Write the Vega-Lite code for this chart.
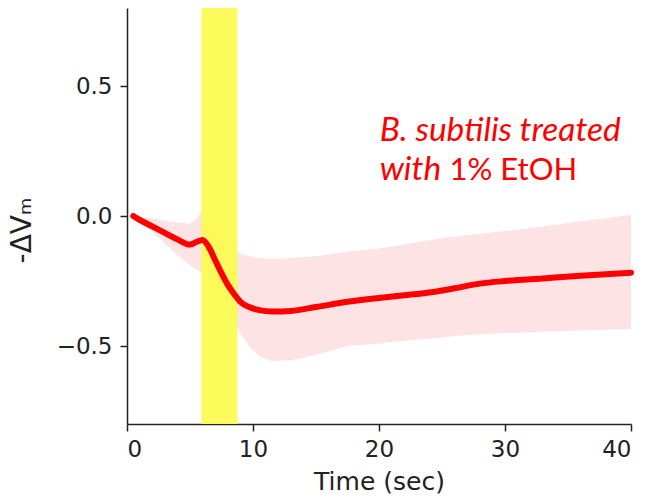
{
  "$schema": "https://vega.github.io/schema/vega-lite/v6.json",
  "width": 504,
  "height": 416,
  "autosize": "none",
  "padding": {"left": 127, "top": 8, "right": 18, "bottom": 80},
  "background": "white",
  "config": {
    "view": {"stroke": null},
    "axis": {
      "grid": false,
      "domainColor": "#222222",
      "domainWidth": 1.5,
      "tickColor": "#222222",
      "tickWidth": 1.5,
      "tickSize": 7,
      "labelFont": "DejaVu Sans",
      "labelFontSize": 23,
      "labelColor": "#222222",
      "titleFont": "DejaVu Sans",
      "titleFontSize": 25,
      "titleFontWeight": "normal",
      "titleColor": "#222222"
    }
  },
  "datasets": {
    "series": [
      {"t": 0.5, "mean": 0.0, "hi": 0.0, "lo": 0.0},
      {"t": 1, "mean": -0.015, "hi": -0.004, "lo": -0.025},
      {"t": 2, "mean": -0.04, "hi": -0.01, "lo": -0.06},
      {"t": 3, "mean": -0.065, "hi": -0.018, "lo": -0.105},
      {"t": 4, "mean": -0.09, "hi": -0.025, "lo": -0.15},
      {"t": 5, "mean": -0.11, "hi": -0.03, "lo": -0.19},
      {"t": 5.5, "mean": -0.1, "hi": -0.01, "lo": -0.205},
      {"t": 6.0, "mean": -0.092, "hi": 0.022, "lo": -0.22},
      {"t": 6.5, "mean": -0.12, "hi": 0.0, "lo": -0.25},
      {"t": 7, "mean": -0.17, "hi": -0.04, "lo": -0.29},
      {"t": 7.5, "mean": -0.22, "hi": -0.08, "lo": -0.33},
      {"t": 8, "mean": -0.265, "hi": -0.11, "lo": -0.37},
      {"t": 8.5, "mean": -0.3, "hi": -0.132, "lo": -0.41},
      {"t": 9, "mean": -0.33, "hi": -0.145, "lo": -0.45},
      {"t": 9.7, "mean": -0.35, "hi": -0.155, "lo": -0.5},
      {"t": 10.5, "mean": -0.362, "hi": -0.162, "lo": -0.54},
      {"t": 11.5, "mean": -0.367, "hi": -0.165, "lo": -0.558},
      {"t": 13, "mean": -0.365, "hi": -0.162, "lo": -0.555},
      {"t": 15, "mean": -0.35, "hi": -0.155, "lo": -0.535},
      {"t": 17.5, "mean": -0.33, "hi": -0.137, "lo": -0.5},
      {"t": 20, "mean": -0.315, "hi": -0.125, "lo": -0.49},
      {"t": 22, "mean": -0.305, "hi": -0.11, "lo": -0.48},
      {"t": 24.3, "mean": -0.292, "hi": -0.09, "lo": -0.47},
      {"t": 26, "mean": -0.278, "hi": -0.08, "lo": -0.462},
      {"t": 28, "mean": -0.26, "hi": -0.068, "lo": -0.455},
      {"t": 30, "mean": -0.25, "hi": -0.058, "lo": -0.45},
      {"t": 33, "mean": -0.24, "hi": -0.04, "lo": -0.445},
      {"t": 36, "mean": -0.23, "hi": -0.02, "lo": -0.44},
      {"t": 40, "mean": -0.218, "hi": 0.004, "lo": -0.435}
    ],
    "stim": [{"start": 5.9, "end": 8.75}],
    "italicLabels": [
      {"x": 20.05, "y": 0.29, "text": "B. subtilis treated"},
      {"x": 20.05, "y": 0.137, "text": "with"}
    ],
    "plainLabels": [
      {"x": 25.6, "y": 0.137, "text": "1% EtOH"}
    ]
  },
  "layer": [
    {
      "data": {"name": "series"},
      "mark": {"type": "area", "color": "#fde3e3", "opacity": 1},
      "encoding": {
        "x": {"field": "t", "type": "quantitative", "scale": {"domain": [0, 40], "nice": false},
              "axis": {"values": [0, 10, 20, 30, 40], "title": "Time (sec)", "labelPadding": 7, "titlePadding": 8}},
        "y": {"field": "lo", "type": "quantitative", "scale": {"domain": [-0.8, 0.8], "nice": false},
              "axis": {"values": [-0.5, 0, 0.5], "format": ".1f", "title": "-ΔVₘ", "titleFontSize": 28, "titleY": 222, "labelPadding": 8, "titlePadding": 20}},
        "y2": {"field": "hi"}
      }
    },
    {
      "data": {"name": "stim"},
      "mark": {"type": "rect", "color": "#fbfb52", "opacity": 0.95},
      "encoding": {
        "x": {"field": "start", "type": "quantitative"},
        "x2": {"field": "end"},
        "y": {"datum": -0.8, "type": "quantitative"},
        "y2": {"datum": 0.8}
      }
    },
    {
      "data": {"name": "series"},
      "mark": {"type": "line", "color": "#ff0000", "strokeWidth": 6, "strokeCap": "round", "interpolate": "monotone"},
      "encoding": {
        "x": {"field": "t", "type": "quantitative"},
        "y": {"field": "mean", "type": "quantitative"}
      }
    },
    {
      "data": {"name": "italicLabels"},
      "mark": {"type": "text", "color": "#ff0000", "font": "Lato", "fontStyle": "italic", "fontSize": 33.5, "align": "left", "baseline": "alphabetic"},
      "encoding": {
        "x": {"field": "x", "type": "quantitative"},
        "y": {"field": "y", "type": "quantitative"},
        "text": {"field": "text"}
      }
    },
    {
      "data": {"name": "plainLabels"},
      "mark": {"type": "text", "color": "#ff0000", "font": "Lato", "fontStyle": "normal", "fontSize": 31, "align": "left", "baseline": "alphabetic"},
      "encoding": {
        "x": {"field": "x", "type": "quantitative"},
        "y": {"field": "y", "type": "quantitative"},
        "text": {"field": "text"}
      }
    }
  ]
}
